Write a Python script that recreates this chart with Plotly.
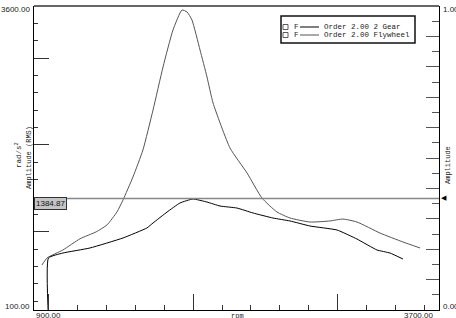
import plotly.graph_objects as go

# ---- data ----
flywheel_rpm = [955, 990, 1100, 1218, 1330, 1405, 1474, 1515, 1584, 1653, 1723, 1792, 1861, 1923,
                1958, 1992, 2048, 2096, 2138, 2255, 2373, 2476, 2580, 2670, 2808, 2946, 3036,
                3133, 3292, 3451, 3569]
flywheel_amp = [618, 699, 791, 920, 1000, 1080, 1230, 1366, 1631, 1942, 2403, 2898, 3324, 3554,
                3531, 3439, 3093, 2783, 2483, 1965, 1677, 1389, 1228, 1159, 1113, 1125, 1147,
                1113, 986, 883, 814]

gear_rpm = [1000, 1000, 1100, 1287, 1515, 1681, 1723, 1820, 1909, 1999, 2096, 2186, 2303, 2414,
            2552, 2670, 2808, 2995, 3133, 3271, 3361, 3451]
gear_amp = [0, 699, 756, 814, 929, 1045, 1102, 1228, 1332, 1378, 1343, 1297, 1274, 1217,
            1159, 1125, 1067, 1021, 917, 791, 756, 687]

cursor_value = 1384.87
x_range = [900, 3700]
y_range = [100, 3600]
y2_range = [0, 1]
series_names = ["Order 2.00 2 Gear", "Order 2.00 Flywheel"]
series_colors = ["#000000", "#555555"]

W, H = 456, 318
ML, MR, MT, MB = 34, 17, 6, 8

fig = go.Figure()
fig.add_trace(go.Scatter(x=flywheel_rpm, y=flywheel_amp, mode="lines",
                         line=dict(color=series_colors[1], width=1, shape="spline", smoothing=0.5),
                         name=series_names[1], showlegend=False, hoverinfo="skip"))
fig.add_trace(go.Scatter(x=gear_rpm, y=gear_amp, mode="lines",
                         line=dict(color=series_colors[0], width=1, shape="spline", smoothing=0.4),
                         name=series_names[0], showlegend=False, hoverinfo="skip"))
# dummy trace to anchor the right axis
fig.add_trace(go.Scatter(x=[x_range[0]], y=[y2_range[0]], yaxis="y2", mode="markers",
                         marker=dict(opacity=0), showlegend=False, hoverinfo="skip"))

fig.update_layout(
    width=W, height=H,
    margin=dict(l=ML, r=MR, t=MT, b=MB),
    paper_bgcolor="white", plot_bgcolor="white",
    showlegend=False,
    xaxis=dict(range=x_range, showgrid=False, zeroline=False, showline=True, linecolor="black",
               linewidth=1, ticks="inside", tick0=0, dtick=1000, ticklen=16, tickcolor="#333",
               tickwidth=1, showticklabels=False,
               minor=dict(ticks="inside", tick0=0, dtick=200, ticklen=5, tickcolor="#333", tickwidth=1)),
    yaxis=dict(range=y_range, showgrid=False, zeroline=False, showline=True, linecolor="black",
               linewidth=1, ticks="inside", tick0=0, dtick=1000, ticklen=15, tickcolor="#333",
               tickwidth=1, showticklabels=False,
               minor=dict(ticks="inside", tick0=0, dtick=200, ticklen=4, tickcolor="#333", tickwidth=1)),
    yaxis2=dict(range=y2_range, overlaying="y", side="right", showgrid=False, zeroline=False,
                showline=True, linecolor="black", linewidth=1, ticks="inside", tick0=0, dtick=0.1,
                ticklen=13, tickcolor="#555", tickwidth=1, showticklabels=False,
                minor=dict(ticks="inside", tick0=0, dtick=0.05, ticklen=7, tickcolor="#555", tickwidth=1)),
)

# top frame line
fig.add_shape(type="line", xref="paper", yref="paper", x0=0, x1=1, y0=1, y1=1,
              line=dict(color="#666", width=2))

# cursor line
fig.add_shape(type="line", xref="paper", yref="y", x0=0, x1=1, y0=cursor_value, y1=cursor_value,
              line=dict(color="#888", width=1.5))

lab_font = dict(family="Liberation Sans, Arial", size=8, color="#222")
mono = dict(family="Liberation Mono, DejaVu Sans Mono", size=7.5, color="#222")

def px_x(px):
    return (px - ML) / (W - ML - MR)

def px_y(py):
    return 1 - (py - MT) / (H - MT - MB)

# cursor label box
fig.add_annotation(xref="paper", yref="y", x=0, y=cursor_value, xanchor="left", yanchor="top",
                   text=f"{cursor_value:.2f}", showarrow=False, font=dict(family="Liberation Sans", size=8, color="#111"),
                   bgcolor="#c4c4c4", bordercolor="#333", borderwidth=1, borderpad=1, yshift=1)
# cursor arrow on right
fig.add_annotation(xref="paper", yref="y", x=1, y=cursor_value, xanchor="left", yanchor="middle",
                   text="◀", showarrow=False, font=dict(family="DejaVu Sans", size=7, color="#000"), xshift=0)

# axis end labels
def txt(x, y, s, xa, ya="middle", font=lab_font, angle=0):
    fig.add_annotation(xref="paper", yref="paper", x=x, y=y, text=s, showarrow=False,
                       xanchor=xa, yanchor=ya, font=font, textangle=angle)

txt(px_x(32), px_y(9.5), f"{y_range[1]:.2f}", "right")
txt(px_x(32), px_y(306), f"{y_range[0]:.2f}", "right")
txt(px_x(441), px_y(9.5), f"{y2_range[1]:.2f}", "left")
txt(px_x(441), px_y(306), f"{y2_range[0]:.2f}", "left")
txt(px_x(34), px_y(316), f"{x_range[0]:.2f}", "left")
txt(px_x(435), px_y(316), f"{x_range[1]:.2f}", "right")
txt(px_x(237), px_y(316), "rpm", "center", font=dict(family="Liberation Mono", size=7, color="#222"))

# axis titles
txt(px_x(19), px_y(155), "rad/s<sup>2</sup>", "center", font=dict(family="Liberation Mono", size=7.5, color="#222"), angle=-90)
txt(px_x(29), px_y(158), "Amplitude (RMS)", "center", font=dict(family="Liberation Mono", size=7, color="#222"), angle=-90)
txt(px_x(448), px_y(165), "Amplitude", "center", font=dict(family="Liberation Mono", size=7, color="#222"), angle=-90)

# legend box
fig.add_shape(type="rect", xref="paper", yref="paper", x0=px_x(281), x1=px_x(415), y0=px_y(43), y1=px_y(16),
              line=dict(color="#111", width=1.5), fillcolor="white")
rows = [27, 35]
for i, (nm, col) in enumerate(zip(series_names, series_colors)):
    ry = rows[i]
    fig.add_shape(type="rect", xref="paper", yref="paper", x0=px_x(283), x1=px_x(288),
                  y0=px_y(ry + 2.5), y1=px_y(ry - 2.5), line=dict(color="#333", width=0.8))
    txt(px_x(292), px_y(ry), "F", "left", font=mono)
    fig.add_shape(type="line", xref="paper", yref="paper", x0=px_x(300), x1=px_x(319),
                  y0=px_y(ry), y1=px_y(ry), line=dict(color=col, width=1))
    txt(px_x(322), px_y(ry), nm, "left", font=mono)

fig.write_html("out.html")
